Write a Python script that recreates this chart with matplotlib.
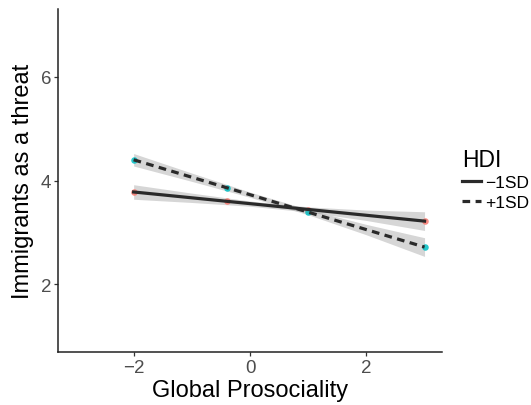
import matplotlib
matplotlib.use("Agg")
import matplotlib.pyplot as plt
from matplotlib.lines import Line2D
import numpy as np

plt.rcParams['font.family'] = ['Liberation Sans', 'DejaVu Sans']

# data
groups = ["\u22121SD", "+1SD"]
point_x = [-2.0, -0.4, 1.0, 3.0]
low_y = [3.78, 3.60, 3.44, 3.22]
high_y = [4.40, 3.86, 3.39, 2.72]
band_x = [-2, -1, 0, 1, 2, 3]
low_ci = [0.14, 0.09, 0.05, 0.05, 0.10, 0.18]
high_ci = [0.12, 0.08, 0.05, 0.05, 0.10, 0.18]
xticks = [-2, 0, 2]
yticks = [2, 4, 6]

fig = plt.figure(figsize=(5.31, 4.06), dpi=100)
ax = fig.add_axes([58/531, 1-353/406, (442-58)/531, (353-10)/406])

line_col = '#2a2a2a'
point_cols = ['#F8766D', '#00BFC4']
styles = ['-', (0, (2.4, 1.7))]

for ys, ci, pc, ls in [(low_y, low_ci, point_cols[0], styles[0]),
                       (high_y, high_ci, point_cols[1], styles[1])]:
    coef = np.polyfit(point_x, ys, 1)
    bx = np.array(band_x, dtype=float)
    fit = np.polyval(coef, bx)
    ax.fill_between(bx, fit - np.array(ci), fit + np.array(ci),
                    color='#999999', alpha=0.4, lw=0, zorder=1)
    ax.scatter(point_x, ys, s=22, color=pc, alpha=0.85, lw=0, zorder=2)
    ax.plot(bx, fit, color=line_col, lw=2.3, linestyle=ls, zorder=3)

ax.set_xlim(-3.3, 3.3)
ax.set_ylim(0.7, 7.3)
ax.set_xticks(xticks)
ax.set_yticks(yticks)
ax.set_xticklabels(["\u22122", "0", "2"])
for s in ['top', 'right']:
    ax.spines[s].set_visible(False)
for s in ['left', 'bottom']:
    ax.spines[s].set_linewidth(1.1)
    ax.spines[s].set_color('#222222')
ax.tick_params(axis='both', length=3, width=0.9, color='#333333',
               labelsize=13.5, labelcolor='#4D4D4D', pad=2)
ax.set_xlabel("Global Prosociality", fontsize=17, color='black', labelpad=2)
ax.set_ylabel("Immigrants as a threat", fontsize=17, color='black', labelpad=5)

handles = [Line2D([], [], color=line_col, lw=2.3, linestyle=styles[0]),
           Line2D([], [], color=line_col, lw=2.3, linestyle=styles[1])]
leg = fig.legend(handles, groups, title="HDI", loc='upper left',
                 bbox_to_anchor=(462/531, 1-149/406), frameon=False,
                 fontsize=12.5, title_fontsize=16.5, handlelength=1.1,
                 handletextpad=0.25, labelspacing=0.25, borderpad=0,
                 borderaxespad=0)
leg._legend_box.align = "left"

fig.savefig("out.png", dpi=100)
